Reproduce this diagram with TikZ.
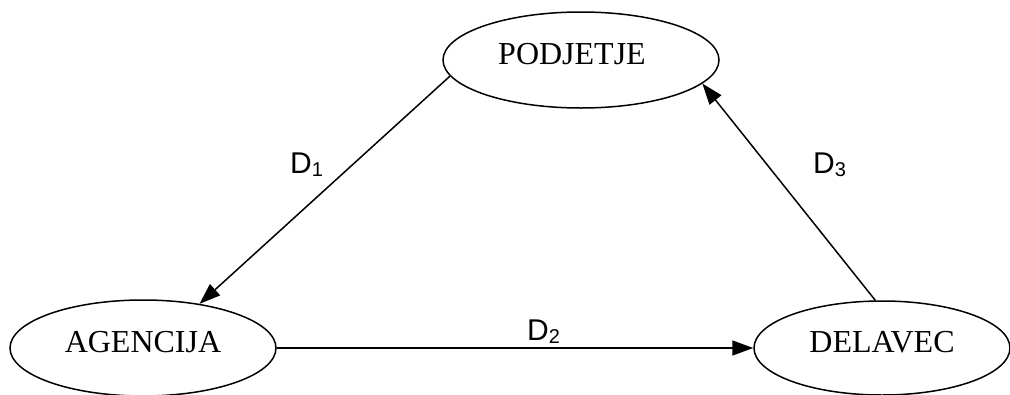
\documentclass[tikz,border=0pt]{standalone}
\usepackage{fontspec}
\setmainfont{Liberation Serif}
\newfontfamily\labelfont{Liberation Sans}
\usetikzlibrary{shapes.geometric,arrows.meta}
\tikzset{
  party/.style={ellipse, draw, line width=1.5pt, inner sep=0pt, text depth=12pt,
    font=\fontsize{32}{32}\selectfont},
  flow/.style={line width=1.5pt, -{Triangle[length=21pt,width=15pt]}},
  dlabel/.style={anchor=base west, inner sep=0pt, font=\labelfont\fontsize{30}{30}\selectfont}
}
\newcommand{\dsub}[1]{D\raisebox{-3.5pt}{\fontsize{20}{20}\selectfont #1}}
\begin{document}
\begin{tikzpicture}[x=1pt,y=-1pt]
\useasboundingbox (0,0) rectangle (1010,394);
\node[party, minimum width=276pt, minimum height=96pt] (P) at (581,60) {PODJETJE\hspace*{18pt}};
\node[party, minimum width=266pt, minimum height=96pt] (A) at (143,348) {AGENCIJA};
\node[party, minimum width=256pt, minimum height=94pt] (D) at (882,348) {DELAVEC};
\draw[flow] (P.187.5) -- (A.38);
\draw[flow] (A.east) -- (D.west);
\draw[flow] (D.98) -- (P.349);
\node[dlabel] (l1) at (290,173) {\dsub{1}};
\node[dlabel] (l2) at (527,340) {\dsub{2}};
\node[dlabel] (l3) at (813,173) {\dsub{3}};
\end{tikzpicture}
\end{document}
